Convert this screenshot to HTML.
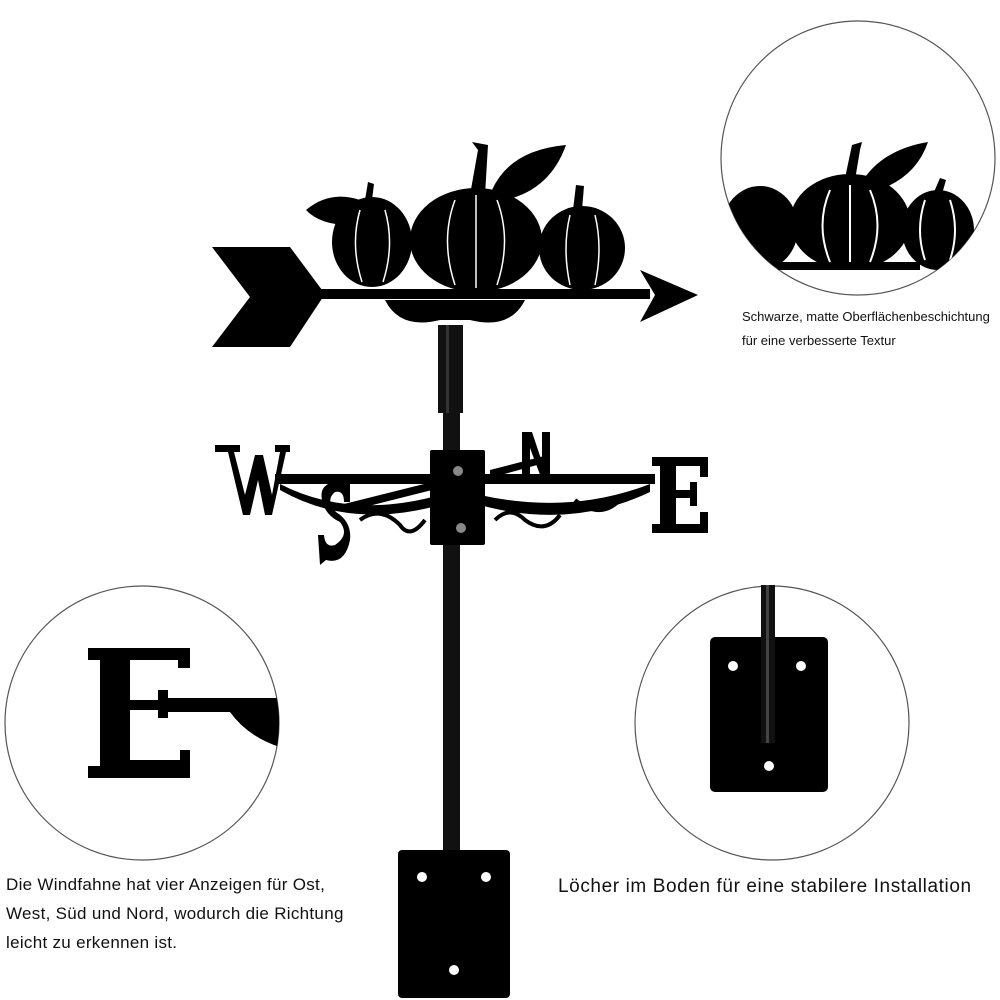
<!DOCTYPE html>
<html><head><meta charset="utf-8"><style>
html,body{margin:0;padding:0;background:#fff;}
body{width:1000px;height:1000px;position:relative;overflow:hidden;font-family:"Liberation Sans",sans-serif;}
.t{position:absolute;color:#111;white-space:nowrap;}
</style></head><body>
<svg width="1000" height="1000" viewBox="0 0 1000 1000" style="position:absolute;left:0;top:0">
<defs>
<clipPath id="c1"><circle cx="858" cy="158" r="137"/></clipPath>
<clipPath id="c2"><circle cx="142" cy="723" r="137"/></clipPath>
</defs>
<circle cx="858" cy="158" r="137" fill="#fff" stroke="#555" stroke-width="1.2"/>
<circle cx="142" cy="723" r="137" fill="#fff" stroke="#555" stroke-width="1.2"/>
<circle cx="772" cy="723" r="137" fill="#fff" stroke="#555" stroke-width="1.2"/>

<g clip-path="url(#c1)" fill="#000">
 <rect x="720" y="262" width="200" height="8"/>
 <ellipse cx="760" cy="228" rx="38" ry="42"/>
 <ellipse cx="850" cy="222" rx="60" ry="48"/>
 <ellipse cx="938" cy="230" rx="36" ry="40"/>
 <path d="M845 178 L852 145 L862 142 L860 150 L855 180Z"/>
 <path d="M860 185 Q880 150 928 142 Q915 180 872 192Z"/>
 <path d="M934 192 L940 178 L946 180 L942 194Z"/>
 <g stroke="#fff" stroke-width="2" fill="none">
  <path d="M830 190 Q815 225 830 262"/><path d="M850 185 L850 262"/><path d="M870 190 Q885 225 870 262"/>
  <path d="M925 200 Q915 230 925 260"/><path d="M950 200 Q960 230 950 260"/>
 </g>
</g>

<g clip-path="url(#c2)" fill="#000">
 <path d="M88 648 H190 V668 H178 V660 H130 V700 H158 V690 H168 V718 H158 V710 H130 V760 H180 V750 H190 V778 H88 V766 H100 V660 H88Z"/>
 <rect x="168" y="698" width="120" height="14"/>
 <path d="M230 712 Q250 740 290 750 L290 712Z"/>
</g>

<rect x="710" y="637" width="118" height="155" rx="5" fill="#000"/>
<rect x="761" y="585" width="14" height="158" fill="#111"/>
<rect x="766" y="585" width="3" height="158" fill="#444"/>
<circle cx="733" cy="666" r="5" fill="#fff"/>
<circle cx="801" cy="666" r="5" fill="#fff"/>
<circle cx="769" cy="766" r="5" fill="#fff"/>

<rect x="443" y="405" width="17" height="450" fill="#111"/>
<rect x="438" y="325" width="25" height="88" fill="#111"/>
<rect x="446" y="325" width="3" height="88" fill="#333"/>
<rect x="398" y="850" width="112" height="148" rx="4" fill="#000"/>
<circle cx="422" cy="877" r="5" fill="#fff"/>
<circle cx="486" cy="877" r="5" fill="#fff"/>
<circle cx="454" cy="970" r="5" fill="#fff"/>

<g fill="#000">
 <rect x="300" y="289" width="350" height="10"/>
 <path d="M212 247 H290 L325 294 L290 347 H212 L250 297Z"/>
 <path d="M640 270 L698 295 L640 322 L655 295Z"/>
 <ellipse cx="372" cy="242" rx="40" ry="45"/>
 <ellipse cx="476" cy="240" rx="66" ry="52"/>
 <ellipse cx="582" cy="248" rx="43" ry="42"/>
 <path d="M306 210 Q330 190 360 200 L350 225 Q320 225 306 210Z"/>
 <path d="M470 195 L478 150 L472 142 L488 145 L485 195Z"/>
 <path d="M492 190 Q510 150 566 145 Q550 190 505 200Z"/>
 <path d="M573 210 L576 185 L584 186 L582 210Z"/>
 <path d="M365 200 L368 182 L374 184 L372 200Z"/>
 <path d="M385 300 Q400 330 440 320 L470 320 Q510 330 525 300Z"/>
 <rect x="275" y="474" width="380" height="10"/>
 <path d="M280 484 Q350 520 440 495 L440 505 Q350 530 280 490Z"/>
 <path d="M480 495 Q570 515 650 484 L650 492 Q570 530 480 505Z"/>
 <path d="M490 470 L548 455 L548 462 L490 478Z"/>
 <path d="M340 505 L440 480 L440 488 L345 512Z"/>
 <path d="M215 445 H240 V452 H234 L245 495 L255 455 H263 L272 495 L280 452 H275 V445 H290 V452 H286 L272 515 H265 L258 480 L250 515 H243 L228 452 H215Z"/>
 <path d="M652 457 H708 V477 H700 V466 H676 V490 H690 V482 H697 V506 H690 V498 H676 V524 H700 V512 H708 V533 H652 V524 H660 V466 H652Z"/>
 <path d="M522 432 H532 L542 462 V432 H550 V480 H542 L530 448 V478 H522Z"/>
 <path d="M345 482 Q318 480 322 500 Q325 515 340 522 Q350 535 335 545 Q325 548 324 535 L318 535 L320 565 L326 560 Q345 565 350 540 Q352 522 336 512 Q325 500 335 492 Q344 490 344 502 L350 502 L350 480Z"/>
 <rect x="430" y="450" width="55" height="95" rx="2"/>
</g>
<g stroke="#fff" stroke-width="1.5" fill="none">
 <path d="M455 200 Q440 240 455 285"/><path d="M497 200 Q512 240 497 285"/><path d="M476 195 L476 288"/>
 <path d="M360 210 Q350 245 362 282"/><path d="M385 210 Q395 245 383 282"/>
 <path d="M570 215 Q562 248 570 285"/><path d="M595 215 Q603 248 595 285"/>
</g>
<circle cx="458" cy="471" r="5" fill="#888"/>
<circle cx="461" cy="528" r="5" fill="#888"/>
<g stroke="#000" stroke-width="4" fill="none">
 <path d="M360 520 Q380 505 400 525 Q410 540 425 520"/>
 <path d="M495 520 Q510 505 525 520 Q545 535 560 515"/>
 <path d="M575 500 Q600 520 620 500"/>
</g>
</svg>

<div class="t" style="left:742px;top:309px;font-size:13px;">Schwarze, matte Oberflächenbeschichtung</div>
<div class="t" style="left:742px;top:333px;font-size:13px;">für eine verbesserte Textur</div>
<div class="t" style="left:6px;top:870px;font-size:17px;line-height:29px;letter-spacing:0.3px;">Die Windfahne hat vier Anzeigen für Ost,<br>West, Süd und Nord, wodurch die Richtung<br>leicht zu erkennen ist.</div>
<div class="t" style="left:558px;top:876px;font-size:19px;letter-spacing:0.6px;">Löcher im Boden für eine stabilere Installation</div>
</body></html>
